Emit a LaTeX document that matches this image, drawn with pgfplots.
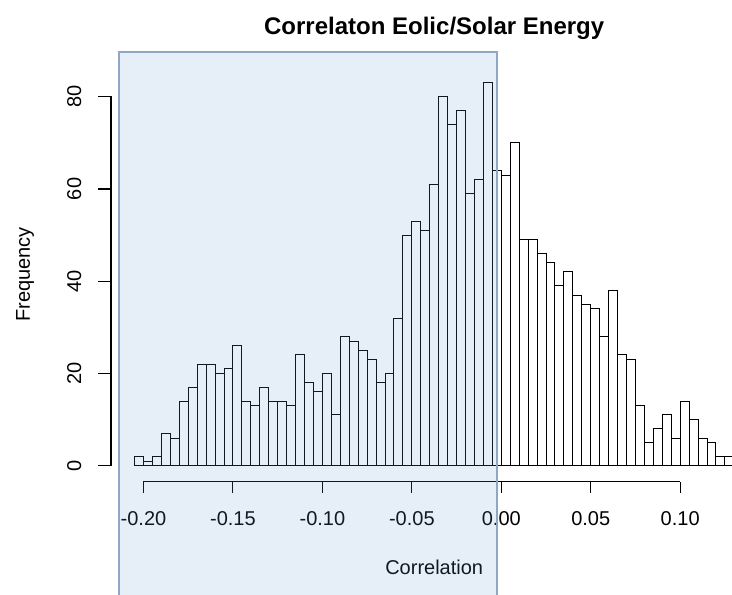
\documentclass[border=0pt]{standalone}
\usepackage{pgfplots}
\pgfplotsset{compat=1.18}
\usepackage{fontspec}
\setmainfont{Liberation Sans}
\definecolor{selfill}{RGB}{100,150,210}
\definecolor{seledge}{RGB}{143,167,199}

\begin{document}
\begin{tikzpicture}[font=\fontsize{15}{18}\selectfont]
\begin{axis}[
  x=1341.75pt, y=3.459pt,
  xmin=-0.2184, xmax=0.1434, ymin=-3.5, ymax=86.5,
  axis x line*=bottom, axis y line*=left,
  axis line style={draw=none},
  clip=false,
  tick align=outside,
  major tick length=8.25pt,
  every tick/.style={black, line width=0.75pt},
  ytick style={draw=none},
  xtick={-0.2,-0.15,-0.1,-0.05,0,0.05,0.1},
  xticklabels={-0.20,-0.15,-0.10,-0.05,0.00,0.05,0.10},
  ytick={0,20,40,60,80},
  yticklabels={0,20,40,60,80},
  xticklabel style={anchor=center},
  xticklabel shift=19.2pt,
  yticklabel style={anchor=center, rotate=90},
  yticklabel shift=19pt,
]
% histogram, bins of 0.005 from -0.205 to 0.13
\addplot[ybar interval, draw=black, fill=none, line width=0.75pt] coordinates {
(-0.205,2) (-0.200,1) (-0.195,2) (-0.190,7) (-0.185,6)
(-0.180,14) (-0.175,17) (-0.170,22) (-0.165,22) (-0.160,20)
(-0.155,21) (-0.150,26) (-0.145,14) (-0.140,13) (-0.135,17)
(-0.130,14) (-0.125,14) (-0.120,13) (-0.115,24) (-0.110,18)
(-0.105,16) (-0.100,20) (-0.095,11) (-0.090,28) (-0.085,27)
(-0.080,25) (-0.075,23) (-0.070,18) (-0.065,20) (-0.060,32)
(-0.055,50) (-0.050,53) (-0.045,51) (-0.040,61) (-0.035,80)
(-0.030,74) (-0.025,77) (-0.020,59) (-0.015,62) (-0.010,83)
(-0.005,64) (0.000,63) (0.005,70) (0.010,49) (0.015,49)
(0.020,46) (0.025,44) (0.030,39) (0.035,42) (0.040,37)
(0.045,35) (0.050,34) (0.055,28) (0.060,38) (0.065,24)
(0.070,23) (0.075,13) (0.080,5) (0.085,8) (0.090,11)
(0.095,6) (0.100,14) (0.105,10) (0.110,6) (0.115,5)
(0.120,2) (0.125,2) (0.130,2)
};
% R style axis lines and y ticks (one path, so it renders as a single stroke)
\draw[black, line width=0.75pt] (axis cs:-0.2,-3.5) -- (axis cs:0.1,-3.5);
\draw[black, line width=0.9pt, line cap=rect]
  (axis cs:-0.2251,80) -- (axis cs:-0.2182,80) -- (axis cs:-0.2182,0) -- (axis cs:-0.2251,0)
  (axis cs:-0.2251,20) -- (axis cs:-0.2182,20)
  (axis cs:-0.2251,40) -- (axis cs:-0.2182,40)
  (axis cs:-0.2251,60) -- (axis cs:-0.2182,60);
% labels
\node[font=\bfseries\fontsize{18}{22}\selectfont] at (axis cs:-0.0375,94.9) {Correlaton Eolic/Solar Energy};
\node at (axis cs:-0.0375,-22.1) {Correlation};
\node[rotate=90] at (axis cs:-0.2662,41.5) {Frequency};
% selection box on top
\fill[selfill, fill opacity=0.16] (axis cs:-0.2137,-40) rectangle (axis cs:-0.00257,89.69);
\draw[seledge, line width=1.2pt] (axis cs:-0.2137,-40) rectangle (axis cs:-0.00257,89.69);
\coordinate (BL) at (axis cs:-0.28021,-28.03);
\coordinate (TR) at (axis cs:0.12896,100.97);
\end{axis}
\pgfresetboundingbox
\useasboundingbox (BL) rectangle (TR);
\end{tikzpicture}
\end{document}
